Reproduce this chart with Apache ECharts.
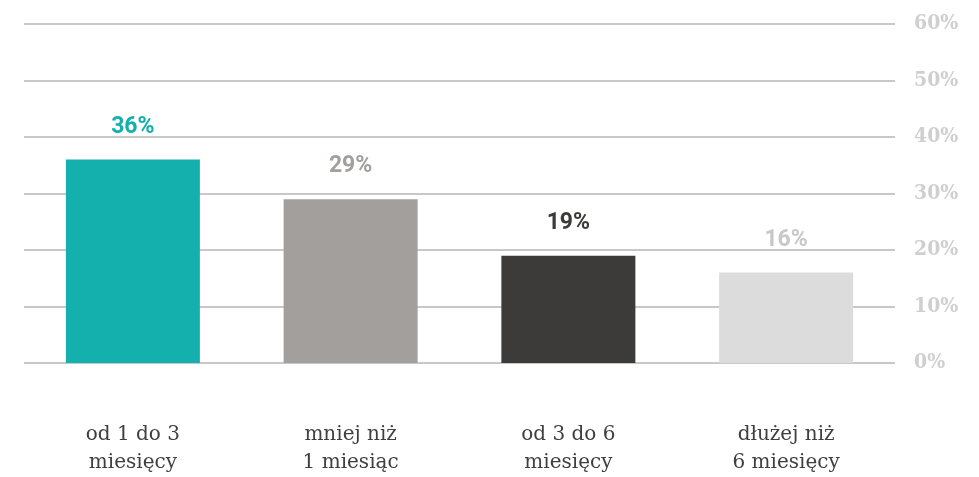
<!DOCTYPE html>
<html>
<head>
<meta charset="utf-8">
<script src="https://cdn.jsdelivr.net/npm/echarts@6/dist/echarts.min.js"></script>
<style>
  html, body { margin: 0; padding: 0; background: #ffffff; }
  #chart { width: 979px; height: 477px; }
</style>
</head>
<body>
<div id="chart"></div>
<script>
// Czas trwania – kategorie i udziały procentowe
const categories = ['od 1 do 3\nmiesięcy', 'mniej niż\n1 miesiąc', 'od 3 do 6\nmiesięcy', 'dłużej niż\n6 miesięcy'];
const shares = [36, 29, 19, 16];
const barColors = ['#13b0ad', '#a39f9d', '#3c3b3a', '#dcdcdc'];
const labelColors = ['#13b0ad', '#a39f9d', '#3c3b3a', '#c8c8c8'];
const yTicks = { min: 0, max: 60, step: 10 };

const chart = echarts.init(document.getElementById('chart'), null, { renderer: 'canvas' });

chart.setOption({
  animation: false,
  backgroundColor: '#ffffff',
  grid: { left: 24, right: 84, top: 24, bottom: 112, containLabel: false },
  xAxis: {
    type: 'category',
    data: categories,
    axisLine: { show: false },
    axisTick: { show: false },
    axisLabel: {
      margin: 58,
      fontFamily: "'DejaVu Serif', serif",
      fontSize: 20,
      lineHeight: 28,
      color: '#3f3f3f'
    }
  },
  yAxis: {
    type: 'value',
    position: 'right',
    min: yTicks.min,
    max: yTicks.max,
    interval: yTicks.step,
    axisLine: { show: false },
    axisTick: { show: false },
    splitLine: { lineStyle: { color: '#c8c8c8', width: 2 } },
    axisLabel: {
      margin: 19,
      formatter: '{value}%',
      fontFamily: "'DejaVu Serif Condensed', Roboto, sans-serif",
      fontWeight: 'bold',
      fontSize: 21,
      color: '#cfcfcf'
    }
  },
  series: [{
    type: 'bar',
    barWidth: 134,
    data: shares.map((v, i) => ({
      value: v,
      itemStyle: { color: barColors[i] },
      label: { color: labelColors[i] }
    })),
    label: {
      show: true,
      position: 'top',
      distance: 21,
      formatter: '{c}%',
      fontFamily: 'Roboto, sans-serif',
      fontWeight: 'bold',
      fontSize: 23
    }
  }]
});
</script>
</body>
</html>
